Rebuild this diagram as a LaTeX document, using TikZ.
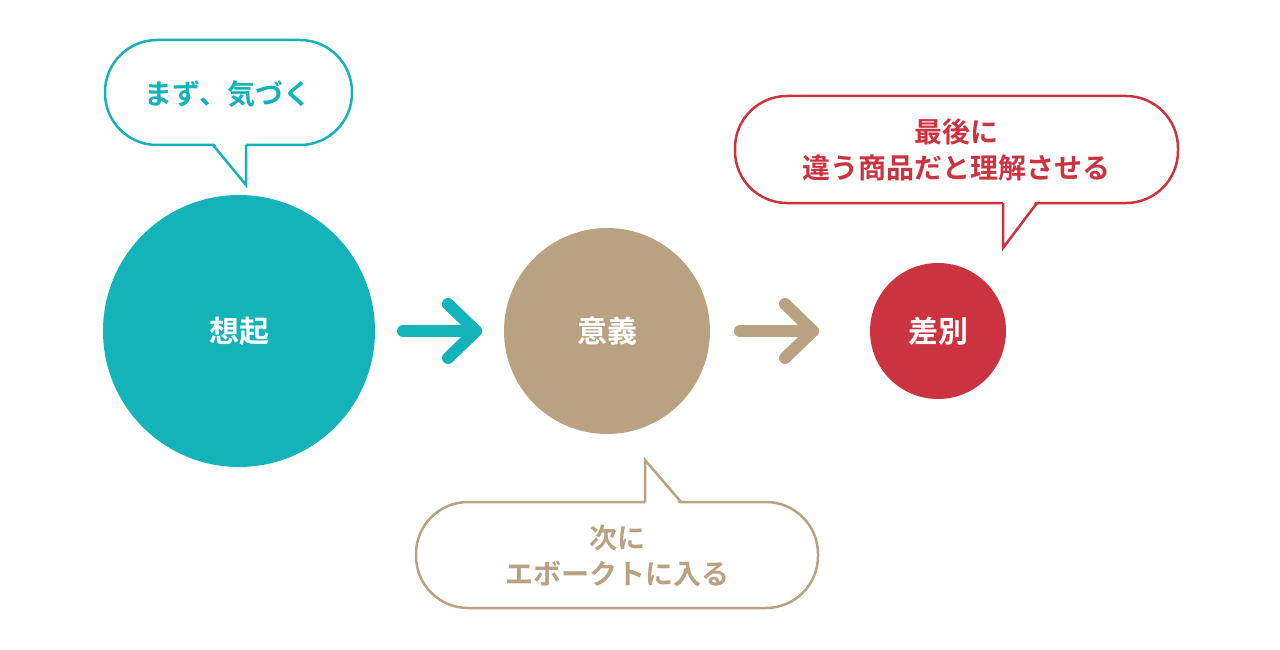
\documentclass[tikz,border=0pt]{standalone}
\usepackage{fontspec}
\newfontfamily\cjk{Noto Sans CJK JP Bold}
\definecolor{teal1}{HTML}{13B3B9}
\definecolor{tan1}{HTML}{B8A282}
\definecolor{red1}{HTML}{CC3340}
\begin{document}
\begin{tikzpicture}[x=1pt,y=-1pt,
  lbl/.style={font=\cjk\fontsize{28}{36}\selectfont,align=center},
  circ/.style={circle,inner sep=0pt,text=white,font=\cjk\fontsize{30}{36}\selectfont},
  bub/.style={line width=2.5pt,fill=white,rounded corners=52pt},
  arr/.style={line width=12pt,line cap=round}]
\useasboundingbox (0,0) rectangle (1280,650);
\node[circ,fill=teal1,minimum size=272pt] (a) at (239,331) {想起};
\node[circ,fill=tan1,minimum size=206pt] (b) at (607,331) {意義};
\node[circ,fill=red1,minimum size=136pt] (c) at (938,331) {差別};
% arrows
\coordinate (a1) at (403,331); \coordinate (a2) at (476,331);
\draw[arr,draw=teal1] (a1) -- (a2);
\draw[arr,draw=teal1,line join=round] (448,304) -- (a2) -- (448,358);
\coordinate (b1) at (740,331); \coordinate (b2) at (813,331);
\draw[arr,draw=tan1] (b1) -- (b2);
\draw[arr,draw=tan1,line join=round] (785,304) -- (b2) -- (785,358);
% bubble 1
\draw[bub,draw=teal1] (105,40) rectangle (352,145);
\fill[white] (212,140) -- (246,185) -- (246,140) -- cycle;
\draw[draw=teal1,line width=2.5pt] (213,145) -- (246,185) -- (246,145);
\node[lbl,text=teal1] (t1) at (228,94) {まず、気づく};
% bubble 2
\draw[bub,draw=red1] (735,96) rectangle (1178,203);
\fill[white] (1003,198) -- (1003,248) -- (1038,198) -- cycle;
\draw[draw=red1,line width=2.5pt] (1003,203) -- (1003,248) -- (1037,203);
\node[lbl,text=red1] (t2) at (956,150) {最後に\\違う商品だと理解させる};
% bubble 3
\draw[bub,draw=tan1] (416,502) rectangle (818,608);
\fill[white] (645,507) -- (645,460) -- (682,507) -- cycle;
\draw[draw=tan1,line width=2.5pt] (645,502) -- (645,460) -- (681,502);
\node[lbl,text=tan1] (t3) at (617,556) {次に\\エボークトに入る};
\end{tikzpicture}
\end{document}
